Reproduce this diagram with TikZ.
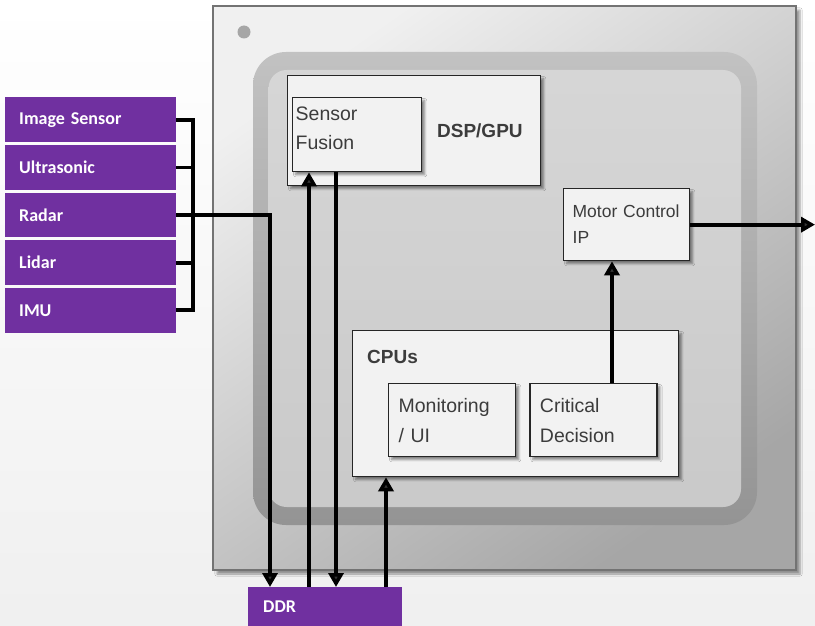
\documentclass[tikz,border=0pt]{standalone}
\usepackage{fontspec}
\setmainfont{Liberation Sans}
\newfontfamily\calibri{Carlito}
\usetikzlibrary{arrows.meta,positioning,shadows.blur}

\definecolor{sensorpurple}{HTML}{7030A0}
\definecolor{boxfill}{HTML}{F2F2F2}
\definecolor{boxtext}{HTML}{3C3C3C}

\begin{document}
\begin{tikzpicture}[x=1pt, y=-1pt, node distance=2.5pt,
  blk/.style={draw=black!85, line width=1.3pt, fill=boxfill, text=boxtext,
    anchor=north west, inner sep=0pt, align=left,
    blur shadow={shadow xshift=3pt, shadow yshift=-3pt, shadow opacity=45, shadow blur steps=5}},
  sensor/.style={fill=sensorpurple, text=white, minimum width=171pt, minimum height=44.7pt,
    text width=143pt, inner xsep=14pt, inner ysep=0pt, align=left,
    font=\calibri\bfseries\fontsize{18}{20}\selectfont},
  wire/.style={line width=3.8pt},
  arr/.style={wire, -{Triangle[length=14pt, width=15pt]}}]

  \useasboundingbox (0,0) rectangle (815,626);
  \shade[top color=white, bottom color=black!6] (0,0) rectangle (815,626);

  % chip package
  \path[draw=black!55, line width=1.2pt, top color=black!6, bottom color=black!35, shading angle=35,
    blur shadow={shadow xshift=4pt, shadow yshift=-4pt, shadow opacity=40}] (213,6) rectangle (796,570);
  \fill[black!35] (244,32) circle (6.5);
  \shade[rounded corners=33pt, top color=black!24, bottom color=black!42] (253,52) rectangle (757,525);
  \shade[rounded corners=18pt, top color=black!16, bottom color=black!21] (268.6,70) rectangle (741,507);

  % blocks on the chip
  \node[blk, minimum width=253pt, minimum height=110pt, text width=217pt, inner xsep=18pt, align=right,
    font=\bfseries\fontsize{19}{22}\selectfont] (dsp) at (287,75) {DSP/GPU};
  \node[blk, minimum width=129pt, minimum height=74pt] (sf) at (292,97) {};
  \node[anchor=north west, align=left, inner sep=0pt, text=boxtext,
    font=\fontsize{19.5}{29}\selectfont] (sftxt) at (295.5,106.5) {Sensor\\Fusion};
  \node[blk, minimum height=72pt, text width=108pt, inner xsep=9pt,
    font=\fontsize{17.5}{26}\selectfont] (motor) at (563,188) {\hbox{Motor Control}\\IP};
  \node[blk, minimum width=326pt, minimum height=146pt] (cpus) at (352,330) {};
  \node[font=\bfseries\fontsize{19}{22}\selectfont, text=boxtext, anchor=west, inner sep=0pt]
    (cpuslbl) at (367,357) {CPUs};
  \node[blk, minimum height=73pt, text width=107pt, inner xsep=10pt,
    font=\fontsize{19.5}{30}\selectfont] (mon) at (388,383) {Monitoring\\/ UI};
  \node[blk, minimum height=73pt, text width=107pt, inner xsep=10pt,
    font=\fontsize{19.5}{30}\selectfont, right=13pt of mon] (crit) {Critical\\Decision};

  % sensors and memory
  \node[sensor, anchor=north west] (img) at (5,97.3) {Image Sensor};
  \node[sensor, below=of img] (ultra) {Ultrasonic};
  \node[sensor, below=of ultra] (radar) {Radar};
  \node[sensor, below=of radar] (lidar) {Lidar};
  \node[sensor, below=of lidar] (imu) {IMU};
  \node[sensor, anchor=north west, minimum width=154pt, text width=124pt, inner xsep=15pt,
    minimum height=39pt] (ddr) at (248,587) {DDR};

  \coordinate (bus) at (193,0);
  \coordinate (xr) at (270,0);
  \coordinate (xa) at (309,0);
  \coordinate (xb) at (336,0);
  \coordinate (xc) at (386,0);
  \coordinate (xm) at (612,0);
  \coordinate (out) at (815,0);

  \draw[wire] (img.east) -- (bus |- img.east) -- (bus |- imu.east) -- (imu.east);
  \foreach \s in {ultra,lidar} \draw[wire] (\s.east) -- (bus |- \s.east);
  \draw[arr] (radar.east) -| (xr |- ddr.north);
  \draw[arr] (xa |- ddr.north) -- (xa |- sf.south);
  \draw[arr] (xb |- sf.south) -- (xb |- ddr.north);
  \draw[arr] (xc |- ddr.north) -- (xc |- cpus.south);
  \draw[arr] (xm |- crit.north) -- (xm |- motor.south);
  \draw[arr] (motor.east) -- (out |- motor.east);
\end{tikzpicture}
\end{document}
